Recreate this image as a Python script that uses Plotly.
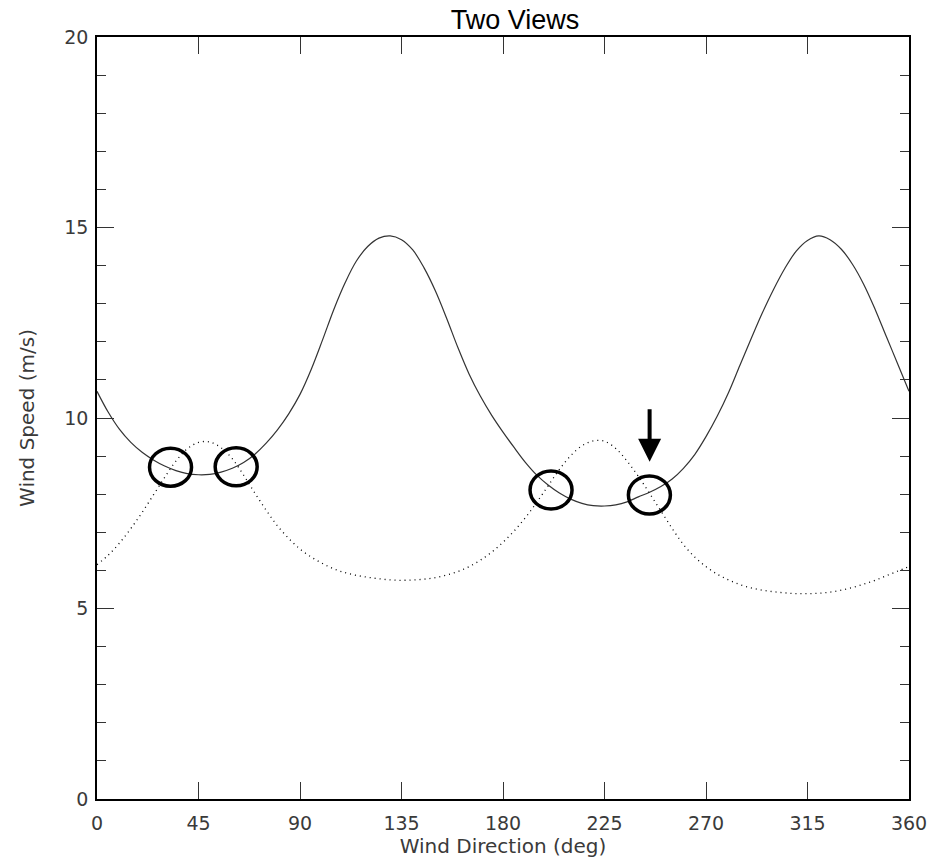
import plotly.graph_objects as go

# wind direction (deg) and the two wind-speed solutions (m/s)
direction = list(range(0, 361, 5))
speed_view1 = [10.70, 10.15, 9.70, 9.36, 9.10, 8.90, 8.74, 8.62, 8.54, 8.51,
               8.52, 8.58, 8.68, 8.83, 9.05, 9.34, 9.69, 10.11, 10.62, 11.28,
               12.05, 12.85, 13.55, 14.12, 14.50, 14.72, 14.78, 14.68, 14.41, 13.94,
               13.34, 12.62, 11.85, 11.15, 10.57, 10.07, 9.63, 9.22, 8.83, 8.50,
               8.24, 8.03, 7.87, 7.76, 7.70, 7.69, 7.72, 7.80, 7.93, 8.05,
               8.20, 8.40, 8.68, 9.04, 9.51, 10.05, 10.67, 11.38, 12.08, 12.76,
               13.38, 13.93, 14.38, 14.66, 14.78, 14.68, 14.43, 14.03, 13.50, 12.85,
               12.13, 11.42, 10.70]
speed_view2 = [6.15, 6.40, 6.72, 7.10, 7.52, 7.98, 8.44, 8.87, 9.19, 9.36,
               9.37, 9.22, 8.93, 8.50, 8.03, 7.58, 7.17, 6.84, 6.56, 6.35,
               6.18, 6.04, 5.94, 5.87, 5.82, 5.78, 5.75, 5.74, 5.75, 5.77,
               5.81, 5.88, 5.97, 6.10, 6.27, 6.48, 6.74, 7.04, 7.39, 7.79,
               8.22, 8.65, 9.01, 9.27, 9.40, 9.39, 9.20, 8.87, 8.47, 8.02,
               7.56, 7.10, 6.68, 6.35, 6.10, 5.90, 5.75, 5.63, 5.54, 5.48,
               5.44, 5.41, 5.39, 5.39, 5.40, 5.43, 5.48, 5.55, 5.64, 5.74,
               5.86, 5.98, 6.10]

# marked crossings and the arrow
circle_dir = [32.6, 61.7, 201.3, 244.9]
circle_speed = [8.71, 8.72, 8.11, 7.98]
arrow_dir = 245.0
arrow_speed = 8.85

x_ticks = [0, 45, 90, 135, 180, 225, 270, 315, 360]
y_ticks = [0, 5, 10, 15, 20]

tick_font = dict(family="DejaVu Sans", size=19, color="#3a3a3a")
label_font = dict(family="DejaVu Sans", size=20, color="#3a3a3a")

fig = go.Figure()

fig.add_trace(go.Scatter(
    x=direction, y=speed_view1, mode="lines",
    line=dict(color="#333", width=1.2, shape="spline", smoothing=1.0),
    showlegend=False
))
fig.add_trace(go.Scatter(
    x=direction, y=speed_view2, mode="lines",
    line=dict(color="black", width=1.3, dash="1px,4px", shape="spline", smoothing=1.0),
    showlegend=False
))

# ellipses around crossings
for cx, cy in zip(circle_dir, circle_speed):
    fig.add_shape(
        type="circle",
        xref="x", yref="y",
        xsizemode="pixel", ysizemode="pixel",
        xanchor=cx, yanchor=cy,
        x0=-21, x1=21, y0=-19, y1=19,
        line=dict(color="black", width=3.5),
    )

fig.add_annotation(
    x=arrow_dir, y=arrow_speed, xref="x", yref="y",
    ax=0, ay=-54, axref="pixel", ayref="pixel",
    text="", showarrow=True,
    arrowhead=2, arrowwidth=4, arrowsize=1.15, arrowcolor="black",
)

fig.update_layout(
    width=939, height=865,
    margin=dict(l=97, r=30, t=37, b=66),
    paper_bgcolor="white", plot_bgcolor="white",
    title=dict(text="Two Views", x=515 / 939, xanchor="center",
               y=1 - 20 / 865, yanchor="middle",
               font=dict(family="Liberation Sans", size=27, color="black")),
)

fig.update_xaxes(
    range=[0, 360], tickvals=x_ticks, ticktext=[str(v) for v in x_ticks],
    showgrid=False, zeroline=False,
    showline=True, linecolor="black", linewidth=1.5, mirror="ticks",
    ticks="inside", ticklen=17, tickwidth=1, tickcolor="#333",
    tickfont=tick_font, ticklabelstandoff=6,
    title=dict(text="Wind Direction (deg)", font=label_font, standoff=2),
)
fig.update_yaxes(
    range=[0, 20], tickvals=y_ticks, ticktext=[str(v) for v in y_ticks],
    showgrid=False, zeroline=False,
    showline=True, linecolor="black", linewidth=1.5, mirror="ticks",
    ticks="inside", ticklen=17, tickwidth=1, tickcolor="#333",
    minor=dict(ticks="inside", ticklen=9, tickwidth=1, tickcolor="#333", dtick=1),
    tickfont=tick_font, ticklabelstandoff=3,
    title=dict(text="Wind Speed (m/s)", font=label_font, standoff=24),
)

# drop the default page margin so the figure fills the window
fig.write_html("out.html", config={"displayModeBar": False},
               post_script="document.body.style.margin = '0';")
